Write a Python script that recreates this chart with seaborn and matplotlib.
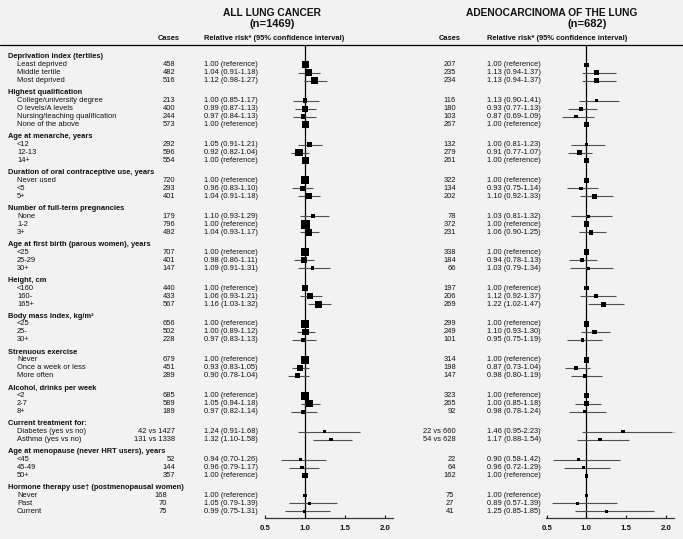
# forest plot: reproductive / lifestyle factors and lung cancer risk in women
import matplotlib.pyplot as plt
import numpy as np
import pandas as pd
import seaborn as sns

# Group headings and rows
group_names = ['Deprivation index (tertiles)', 'Highest qualification',
               'Age at menarche, years', 'Duration of oral contraceptive use, years',
               'Number of full-term pregnancies', 'Age at first birth (parous women), years',
               'Height, cm', 'Body mass index, kg/m\u00b2', 'Strenuous exercise',
               'Alcohol, drinks per week', 'Current treatment for:',
               'Age at menopause (never HRT users), years',
               'Hormone therapy use\u2020 (postmenopausal women)']
group_sizes = [3, 4, 3, 3, 3, 3, 3, 3, 3, 3, 2, 3, 3]
row_names = ['Least deprived', 'Middle tertile', 'Most deprived',
             'College/university degree', 'O levels/A levels',
             'Nursing/teaching qualification', 'None of the above',
             '<12', '12-13', '14+',
             'Never used', '<5', '5+',
             'None', '1-2', '3+',
             '<25', '25-29', '30+',
             '<160', '160-', '165+',
             '<25', '25-', '30+',
             'Never', 'Once a week or less', 'More often',
             '<2', '2-7', '8+',
             'Diabetes (yes vs no)', 'Asthma (yes vs no)',
             '<45', '45-49', '50+',
             'Never', 'Past', 'Current']

# All lung cancer (n=1469)
all_cases = ['458', '482', '516', '213', '400', '244', '573', '292', '596', '554',
             '720', '293', '401', '179', '796', '492', '707', '401', '147',
             '440', '433', '567', '656', '502', '228', '679', '451', '289',
             '685', '589', '189', '42 vs 1427', '131 vs 1338', '52', '144', '357',
             '168', '70', '75']
all_rr = [1.00, 1.04, 1.12, 1.00, 0.99, 0.97, 1.00, 1.05, 0.92, 1.00,
          1.00, 0.96, 1.04, 1.10, 1.00, 1.04, 1.00, 0.98, 1.09,
          1.00, 1.06, 1.16, 1.00, 1.00, 0.97, 1.00, 0.93, 0.90,
          1.00, 1.05, 0.97, 1.24, 1.32, 0.94, 0.96, 1.00,
          1.00, 1.05, 0.99]
all_lo = [np.nan, 0.91, 0.98, 0.85, 0.87, 0.84, np.nan, 0.91, 0.82, np.nan,
          np.nan, 0.83, 0.91, 0.93, np.nan, 0.93, np.nan, 0.86, 0.91,
          np.nan, 0.93, 1.03, np.nan, 0.89, 0.83, np.nan, 0.83, 0.78,
          np.nan, 0.94, 0.82, 0.91, 1.10, 0.70, 0.79, np.nan,
          np.nan, 0.79, 0.75]
all_hi = [np.nan, 1.18, 1.27, 1.17, 1.13, 1.13, np.nan, 1.21, 1.04, np.nan,
          np.nan, 1.10, 1.18, 1.29, np.nan, 1.17, np.nan, 1.11, 1.31,
          np.nan, 1.21, 1.32, np.nan, 1.12, 1.13, np.nan, 1.05, 1.04,
          np.nan, 1.18, 1.14, 1.68, 1.58, 1.26, 1.17, np.nan,
          np.nan, 1.39, 1.31]

# Adenocarcinoma of the lung (n=682)
adeno_cases = ['207', '235', '234', '116', '180', '103', '267', '132', '279', '261',
               '322', '134', '202', '78', '372', '231', '338', '184', '66',
               '197', '206', '269', '299', '249', '101', '314', '198', '147',
               '323', '265', '92', '22 vs 660', '54 vs 628', '22', '64', '162',
               '75', '27', '41']
adeno_rr = [1.00, 1.13, 1.13, 1.13, 0.93, 0.87, 1.00, 1.00, 0.91, 1.00,
            1.00, 0.93, 1.10, 1.03, 1.00, 1.06, 1.00, 0.94, 1.03,
            1.00, 1.12, 1.22, 1.00, 1.10, 0.95, 1.00, 0.87, 0.98,
            1.00, 1.00, 0.98, 1.46, 1.17, 0.90, 0.96, 1.00,
            1.00, 0.89, 1.25]
adeno_lo = [np.nan, 0.94, 0.94, 0.90, 0.77, 0.69, np.nan, 0.81, 0.77, np.nan,
            np.nan, 0.75, 0.92, 0.81, np.nan, 0.90, np.nan, 0.78, 0.79,
            np.nan, 0.92, 1.02, np.nan, 0.93, 0.75, np.nan, 0.73, 0.80,
            np.nan, 0.85, 0.78, 0.95, 0.88, 0.58, 0.72, np.nan,
            np.nan, 0.57, 0.85]
adeno_hi = [np.nan, 1.37, 1.37, 1.41, 1.13, 1.09, np.nan, 1.23, 1.07, np.nan,
            np.nan, 1.14, 1.33, 1.32, np.nan, 1.25, np.nan, 1.13, 1.34,
            np.nan, 1.37, 1.47, np.nan, 1.30, 1.19, np.nan, 1.04, 1.19,
            np.nan, 1.18, 1.24, 2.23, 1.54, 1.42, 1.29, np.nan,
            np.nan, 1.39, 1.85]

W, H = 683, 539
FS = 5.4
INK = '#111111'

sns.set_theme(style='white')
plt.rcParams['font.family'] = ['Liberation Sans', 'DejaVu Sans']

fig = plt.figure(figsize=(W / 100, H / 100), dpi=100)
fig.patch.set_facecolor('#f2f2f2')
tab = fig.add_axes([0, 0, 1, 1])
tab.set_xlim(0, W)
tab.set_ylim(H, 0)
tab.axis('off')

# vertical position of headings and rows, pixels from the top
head_y, row_y = [], []
y = 57
for n in group_sizes:
    head_y.append(y)
    y += 7.7
    for k in range(n):
        row_y.append(y)
        y += 8.0
    y += 4.2
row_grp = np.repeat(np.arange(len(group_sizes)), group_sizes)
last_grp = len(group_sizes) - 1

# table text on the left
for name, yy in zip(group_names, head_y):
    tab.text(8, yy, name, fontsize=FS, fontweight='bold', va='center', color=INK)
for name, yy in zip(row_names, row_y):
    tab.text(17, yy, name, fontsize=FS, va='center', color=INK)

tab.axhline(45, color='black', lw=0.9)


def rr_text(rr, lo, hi):
    if np.isnan(lo):
        return f'{rr:.2f} (reference)'
    return f'{rr:.2f} ({lo:.2f}-{hi:.2f})'


def panel(title, sub, title_x, sub_x, cases_x, text_x, x05, scale,
          cases, rr, lo, hi, hrt_shift):
    tab.text(title_x, 13, title, fontsize=7.4, fontweight='bold', ha='center', va='center', color=INK)
    tab.text(sub_x, 24, sub, fontsize=8.0, fontweight='bold', ha='center', va='center', color=INK)
    tab.text(cases_x - 6, 39, 'Cases', fontsize=FS, fontweight='bold', ha='center', va='center', color=INK)
    tab.text(text_x, 39, 'Relative risk* (95% confidence interval)', fontsize=FS,
             fontweight='bold', va='center', color=INK)
    for c, r, l, h, yy, g in zip(cases, rr, lo, hi, row_y, row_grp):
        cx = cases_x - (hrt_shift if g == last_grp else 0)
        tab.text(cx, yy, c, fontsize=FS, ha='right', va='center', color=INK)
        tab.text(text_x, yy, rr_text(r, l, h), fontsize=FS, va='center', color=INK)

    # forest part, x in relative risk, y in the same pixel rows as the table
    left = x05 - 0.05 * scale
    ax = fig.add_axes([left / W, (H - 518) / H, 1.7 * scale / W, (518 - 45) / H])
    ax.patch.set_alpha(0)
    df = pd.DataFrame({'rr': rr, 'lo': lo, 'hi': hi, 'y': row_y,
                       'n': [int(c.split()[0]) for c in cases]})
    side = np.clip(0.3 * np.sqrt(df['n']), 3.3, 8.5) * 0.72
    df['area'] = side ** 2

    ax.axvline(1.0, color='black', lw=0.9, zorder=1)
    ci = df.dropna()
    ax.hlines(ci['y'], ci['lo'], ci['hi'].clip(upper=2.07), color='#505050', lw=0.8, zorder=2)
    over = ci[ci['hi'] > 2.07]
    ax.hlines(over['y'], 2.07, 2.12, color='#a0a0a0', lw=0.8, linestyles=(0, (1, 1)), zorder=2)
    sns.scatterplot(data=df, x='rr', y='y', size='area', marker='s', color='black',
                    sizes=(df['area'].min(), df['area'].max()),
                    size_norm=(df['area'].min(), df['area'].max()),
                    linewidth=0, legend=False, ax=ax, zorder=3)

    ax.set_xlim(0.45, 2.15)
    ax.set_ylim(518, 45)
    ax.set_xlabel('')
    ax.set_ylabel('')
    ax.set_yticks([])
    for s in ['left', 'top', 'right']:
        ax.spines[s].set_visible(False)
    ax.spines['bottom'].set_bounds(0.49, 2.1)
    ax.spines['bottom'].set_linewidth(0.9)
    ax.spines['bottom'].set_color('#333333')
    ax.set_xticks([0.5, 1.0, 1.5, 2.0])
    ax.set_xticklabels(['0.5', '1.0', '1.5', '2.0'], fontweight='bold')
    ax.tick_params(axis='x', direction='in', length=2.5, width=0.8, pad=5,
                   labelsize=FS + 0.3, colors=INK, bottom=True)


panel('ALL LUNG CANCER', '(n=1469)', 272, 272, 175, 204, 265.3, 80.0,
      all_cases, all_rr, all_lo, all_hi, 8)
panel('ADENOCARCINOMA OF THE LUNG', '(n=682)', 552, 587, 456, 487, 546.7, 79.5,
      adeno_cases, adeno_rr, adeno_lo, adeno_hi, 2)

fig.savefig('out.png', dpi=100, facecolor=fig.get_facecolor())
